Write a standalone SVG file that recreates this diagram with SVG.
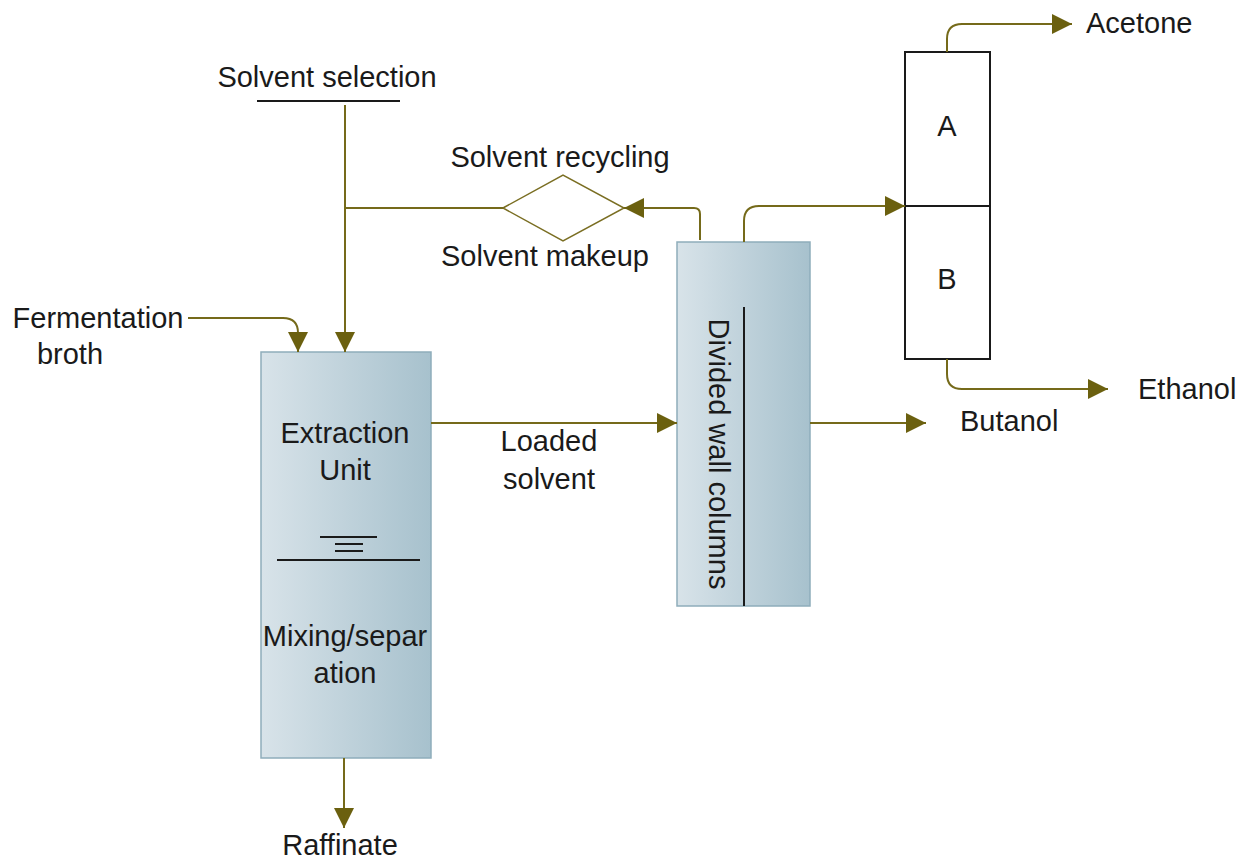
<svg xmlns="http://www.w3.org/2000/svg" width="1241" height="860" viewBox="0 0 1241 860">
<style>
.t{font-family:"Liberation Sans",Arial,sans-serif;font-size:29px;fill:#1a1a1a}
.c{fill:none;stroke:#756a1a;stroke-width:2}
.blk{stroke:#1a1a1a;stroke-width:2;fill:none}
.unit{fill:url(#g);stroke:#8eadbb;stroke-width:1.5}
</style>
<defs>
<linearGradient id="g" x1="0" y1="0" x2="1" y2="0">
<stop offset="0" stop-color="#d8e3e9"/>
<stop offset="1" stop-color="#a7c1cd"/>
</linearGradient>
<marker id="a" markerUnits="userSpaceOnUse" markerWidth="24" markerHeight="24" viewBox="0 0 24 24" refX="22" refY="12" orient="auto">
<path d="M2,2 L22,12 L2,22 Z" fill="#6b600f"/>
</marker>
</defs>
<g id="extraction">
<rect class="unit" x="261" y="352" width="170" height="406"/>
<text class="t" x="345" y="443" text-anchor="middle">Extraction</text>
<text class="t" x="345" y="480" text-anchor="middle">Unit</text>
<line class="blk" x1="320" y1="537" x2="377" y2="537"/>
<line class="blk" x1="335" y1="544" x2="363" y2="544"/>
<line class="blk" x1="335" y1="551" x2="363" y2="551"/>
<line class="blk" x1="277" y1="560" x2="420" y2="560"/>
<text class="t" x="345" y="646" text-anchor="middle">Mixing/separ</text>
<text class="t" x="345" y="683" text-anchor="middle">ation</text>
</g>
<g id="dwc">
<rect class="unit" x="677" y="242" width="133" height="364"/>
<line class="blk" x1="744" y1="307" x2="744" y2="606"/>
<text class="t" transform="translate(709,454) rotate(90)" text-anchor="middle">Divided wall columns</text>
</g>
<g id="columnAB">
<rect class="blk" x="905" y="52" width="85" height="307" fill="#fff"/>
<line class="blk" x1="905" y1="206" x2="990" y2="206"/>
<text class="t" x="947" y="136" text-anchor="middle">A</text>
<text class="t" x="947" y="289" text-anchor="middle">B</text>
</g>
<g id="diamond">
<polygon points="503,208 563,175 624,208 563,241" fill="#fff" stroke="#7a6e22" stroke-width="1.5"/>
<text class="t" x="560" y="167" text-anchor="middle">Solvent recycling</text>
<text class="t" x="545" y="266" text-anchor="middle">Solvent makeup</text>
</g>
<g id="labels">
<text class="t" x="327" y="87" text-anchor="middle">Solvent selection</text>
<line class="blk" x1="257" y1="101" x2="400" y2="101"/>
<text class="t" x="98" y="328" text-anchor="middle">Fermentation</text>
<text class="t" x="70" y="364" text-anchor="middle">broth</text>
<text class="t" x="549" y="451" text-anchor="middle">Loaded</text>
<text class="t" x="549" y="489" text-anchor="middle">solvent</text>
<text class="t" x="1086" y="33">Acetone</text>
<text class="t" x="1138" y="399">Ethanol</text>
<text class="t" x="960" y="431">Butanol</text>
<text class="t" x="340" y="855" text-anchor="middle">Raffinate</text>
</g>
<g id="connectors">
<path class="c" d="M345,105 V352" marker-end="url(#a)"/>
<path class="c" d="M345,208 H503"/>
<path class="c" d="M188,318 H283 Q298,318 298,333 V352" marker-end="url(#a)"/>
<path class="c" d="M700,240 V214 Q700,208 694,208 H624" marker-end="url(#a)"/>
<path class="c" d="M744,242 V221 Q744,206 759,206 H905" marker-end="url(#a)"/>
<path class="c" d="M947,52 V39 Q947,24 962,24 H1072" marker-end="url(#a)"/>
<path class="c" d="M947,359 V374 Q947,389 962,389 H1108" marker-end="url(#a)"/>
<path class="c" d="M431,423 H677" marker-end="url(#a)"/>
<path class="c" d="M810,423 H926" marker-end="url(#a)"/>
<path class="c" d="M344,758 V828" marker-end="url(#a)"/>
</g>
</svg>
